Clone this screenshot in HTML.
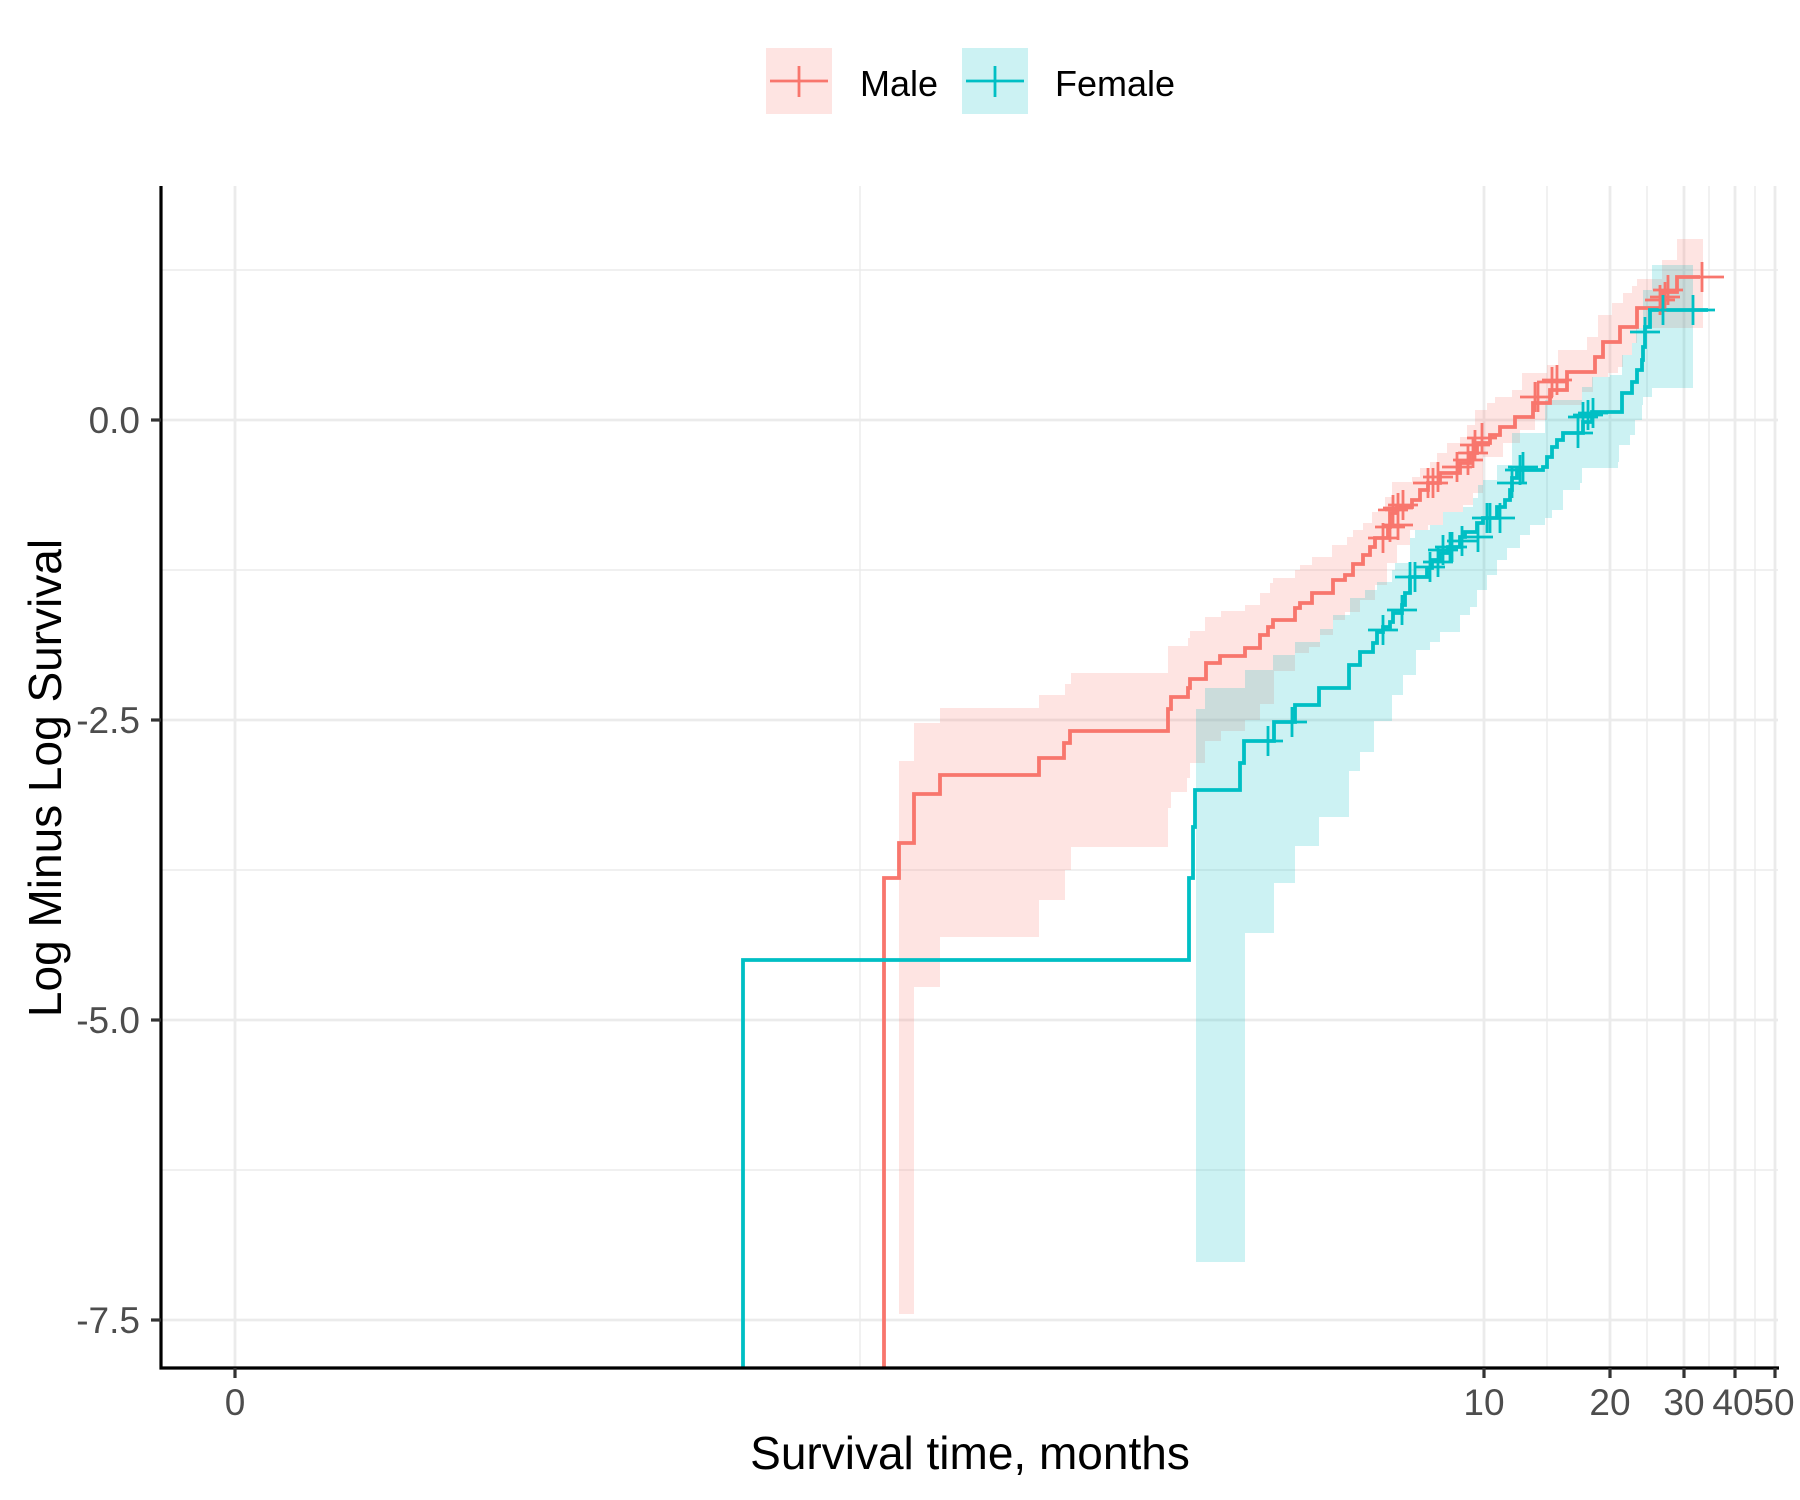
<!DOCTYPE html>
<html><head><meta charset="utf-8"><style>html,body{margin:0;padding:0;background:#fff}svg{display:block}</style></head>
<body>
<svg width="1800" height="1500" viewBox="0 0 1800 1500" xmlns="http://www.w3.org/2000/svg" font-family="Liberation Sans, Arial, sans-serif">
<rect width="1800" height="1500" fill="#fff"/>
<g stroke="#EBEBEB" stroke-width="1.4">
<line x1="161" x2="1778" y1="270" y2="270"/><line x1="161" x2="1778" y1="570" y2="570"/><line x1="161" x2="1778" y1="870" y2="870"/><line x1="161" x2="1778" y1="1170" y2="1170"/>
<line x1="860" x2="860" y1="186" y2="1368"/><line x1="1547" x2="1547" y1="186" y2="1368"/><line x1="1647" x2="1647" y1="186" y2="1368"/><line x1="1709" x2="1709" y1="186" y2="1368"/><line x1="1755" x2="1755" y1="186" y2="1368"/>
</g>
<g stroke="#EBEBEB" stroke-width="2.8">
<line x1="161" x2="1778" y1="420" y2="420"/><line x1="161" x2="1778" y1="720" y2="720"/><line x1="161" x2="1778" y1="1020" y2="1020"/><line x1="161" x2="1778" y1="1320" y2="1320"/>
<line x1="235" x2="235" y1="186" y2="1368"/><line x1="1484" x2="1484" y1="186" y2="1368"/><line x1="1610" x2="1610" y1="186" y2="1368"/><line x1="1684" x2="1684" y1="186" y2="1368"/><line x1="1735" x2="1735" y1="186" y2="1368"/><line x1="1775" x2="1775" y1="186" y2="1368"/>
</g>
<path fill="#F8766D" fill-opacity="0.2" d="M899 761 H914 V723 H940 V708 H1039 V695 H1065 V684 H1071 V673 H1168 V646 H1188 V638 H1190 V631 H1205 V617 H1221 V611 H1245 V605 H1260 V593 H1270 V583 H1273 V578 H1295 V570 H1300 V565 H1312 V557 H1332 V545 H1347 V537 H1353 V530 H1363 V523 H1372 V512 H1385 V497 H1392 V482 H1412 V477 H1420 V468 H1430 V462 H1437 V453 H1447 V443 H1460 V437 H1467 V425 H1475 V410 H1487 V403 H1495 V397 H1512 V390 H1522 V373 H1547 V365 H1558 V350 H1587 V337 H1598 V315 H1612 V303 H1623 V293 H1632 V286 H1637 V279 H1662 V260 H1677 V239 H1703 V328 H1637 V343 H1632 V355 H1623 V367 H1618 V373 H1608 V377 H1593 V392 H1582 V405 H1547 V420 H1535 V430 H1520 V443 H1503 V457 H1483 V493 H1473 V505 H1463 V512 H1443 V525 H1428 V530 H1410 V545 H1397 V563 H1387 V585 H1375 V600 H1360 V612 H1345 V620 H1333 V635 H1320 V647 H1309 V653 H1295 V671 H1274 V704 H1260 V720 H1245 V731 H1221 V741 H1205 V763 H1190 V778 H1187 V792 H1171 V808 H1168 V847 H1071 V870 H1065 V900 H1039 V937 H940 V987 H914 V1314 H899 Z"/>
<path fill="#00BFC4" fill-opacity="0.2" d="M1196 709 H1205 V688 H1245 V670 H1273 V655 H1295 V642 H1320 V629 H1333 V615 H1350 V598 H1365 V590 H1377 V582 H1392 V570 H1395 V563 H1410 V538 H1415 V530 H1430 V525 H1443 V512 H1463 V507 H1473 V498 H1478 V485 H1483 V480 H1497 V465 H1512 V433 H1545 V400 H1582 V387 H1592 V377 H1610 V375 H1622 V355 H1632 V343 H1636 V328 H1643 V290 H1652 V265 H1693 V388 H1652 V397 H1643 V405 H1642 V420 H1635 V435 H1630 V445 H1619 V462 H1618 V468 H1582 V483 H1580 V490 H1563 V510 H1552 V518 H1545 V525 H1530 V535 H1520 V548 H1507 V560 H1497 V575 H1487 V590 H1477 V607 H1470 V615 H1460 V632 H1440 V642 H1430 V650 H1416 V675 H1403 V695 H1392 V721 H1374 V752 H1360 V771 H1349 V817 H1319 V846 H1295 V883 H1274 V933 H1245 V1262 H1196 Z"/>
<path fill="none" stroke="#F8766D" stroke-width="3.8" d="M884 1368 V878 H899 V843 H914 V794 H940 V775 H1039 V758 H1064 V743 H1070 V731 H1168 V709 H1171 V697 H1188 V688 H1190 V679 H1206 V663 H1220 V656 H1245 V648 H1260 V635 H1268 V627 H1273 V620 H1295 V608 H1300 V603 H1312 V593 H1333 V580 H1345 V575 H1353 V564 H1363 V555 H1370 V547 H1375 V538 H1388 V527 H1390 V513 H1397 V507 H1412 V500 H1420 V490 H1428 V483 H1440 V473 H1460 V463 H1470 V453 H1477 V443 H1490 V435 H1500 V427 H1515 V417 H1533 V403 H1550 V390 H1567 V372 H1595 V357 H1603 V342 H1620 V327 H1637 V308 H1663 V292 H1677 V277 H1700"/>
<path fill="none" stroke="#00BFC4" stroke-width="3.8" d="M743 1368 V960 H1189 V878 H1193 V827 H1195 V790 H1240 V763 H1244 V741 H1274 V722 H1295 V705 H1319 V688 H1349 V665 H1360 V652 H1373 V643 H1377 V632 H1383 V627 H1390 V622 H1393 V613 H1402 V605 H1405 V593 H1410 V577 H1427 V568 H1432 V560 H1440 V553 H1448 V547 H1460 V537 H1465 V532 H1477 V523 H1483 V518 H1497 V507 H1505 V500 H1510 V490 H1512 V478 H1517 V470 H1543 V467 H1547 V457 H1552 V447 H1557 V440 H1563 V433 H1580 V433 H1583 V422 H1592 V412 H1618 V412 H1622 V393 H1632 V382 H1637 V370 H1642 V360 H1643 V347 H1645 V327 H1650 V310 H1708"/>
<g stroke="#F8766D" stroke-width="2.8" fill="none">
<path d="M1368 538h30M1383 523v30 M1378 510h30M1393 495v30 M1383 508h30M1398 493v30 M1388 505h30M1403 490v30 M1375 527h30M1390 512v30 M1383 525h30M1398 510v30 M1413 483h30M1428 468v30 M1418 483h30M1433 468v30 M1423 477h30M1438 462v30 M1442 467h30M1457 452v30 M1453 460h30M1468 445v30 M1458 453h30M1473 438v30 M1460 445h30M1475 430v30 M1467 438h30M1482 423v30 M1520 397h30M1535 382v30 M1523 397h30M1538 382v30 M1537 382h30M1552 367v30 M1542 380h30M1557 365v30 M1645 300h30M1660 285v30 M1650 297h30M1665 282v30 M1653 290h30M1668 275v30 M1680 277h44M1702 262v30"/>
</g>
<g stroke="#00BFC4" stroke-width="2.8" fill="none">
<path d="M1253 741h30M1268 726v30 M1277 722h30M1292 707v30 M1368 630h30M1383 615v30 M1387 610h30M1402 595v30 M1395 577h30M1410 562v30 M1400 577h30M1415 562v30 M1415 567h30M1430 552v30 M1423 562h30M1438 547v30 M1428 550h30M1443 535v30 M1437 547h30M1452 532v30 M1447 541h30M1462 526v30 M1463 537h30M1478 522v30 M1472 518h30M1487 503v30 M1435 547h30M1450 532v30 M1475 518h30M1490 503v30 M1485 518h30M1500 503v30 M1497 483h30M1512 468v30 M1505 470h30M1520 455v30 M1508 467h30M1523 452v30 M1563 433h30M1578 418v30 M1568 417h30M1583 402v30 M1573 415h30M1588 400v30 M1578 413h30M1593 398v30 M1630 332h30M1645 317v30 M1648 310h30M1663 295v30 M1671 310h44M1693 295v30"/>
</g>
<line x1="161" y1="186" x2="161" y2="1369.5" stroke="#000" stroke-width="3.2"/>
<line x1="159.5" y1="1368" x2="1779" y2="1368" stroke="#000" stroke-width="3.2"/>
<g stroke="#333" stroke-width="3.2">
<line x1="151" x2="161" y1="420" y2="420"/><line x1="151" x2="161" y1="720" y2="720"/><line x1="151" x2="161" y1="1020" y2="1020"/><line x1="151" x2="161" y1="1320" y2="1320"/>
<line x1="235" x2="235" y1="1368" y2="1378"/><line x1="1484" x2="1484" y1="1368" y2="1378"/><line x1="1610" x2="1610" y1="1368" y2="1378"/><line x1="1684" x2="1684" y1="1368" y2="1378"/><line x1="1735" x2="1735" y1="1368" y2="1378"/><line x1="1775" x2="1775" y1="1368" y2="1378"/>
</g>
<g fill="#4D4D4D" font-size="37" text-anchor="end">
<text x="140" y="433">0.0</text><text x="140" y="733">-2.5</text><text x="140" y="1033">-5.0</text><text x="140" y="1333">-7.5</text>
</g>
<g fill="#4D4D4D" font-size="37" text-anchor="middle">
<text x="235" y="1415">0</text><text x="1484" y="1415">10</text><text x="1610" y="1415">20</text><text x="1684" y="1415">30</text><text x="1733" y="1415">40</text><text x="1774" y="1415">50</text>
</g>
<text x="970" y="1469" font-size="46" text-anchor="middle" fill="#000">Survival time, months</text>
<text transform="translate(61,778) rotate(-90)" font-size="46" text-anchor="middle" fill="#000">Log Minus Log Survival</text>
<rect x="766" y="48" width="66" height="66" fill="#F8766D" fill-opacity="0.2"/>
<path d="M770 81h58M799 66v31" stroke="#F8766D" stroke-width="2.8"/>
<text x="860" y="96" font-size="36" fill="#000">Male</text>
<rect x="962" y="48" width="66" height="66" fill="#00BFC4" fill-opacity="0.2"/>
<path d="M966 81h58M995 66v31" stroke="#00BFC4" stroke-width="2.8"/>
<text x="1055" y="96" font-size="36" fill="#000">Female</text>
</svg>
</body></html>
